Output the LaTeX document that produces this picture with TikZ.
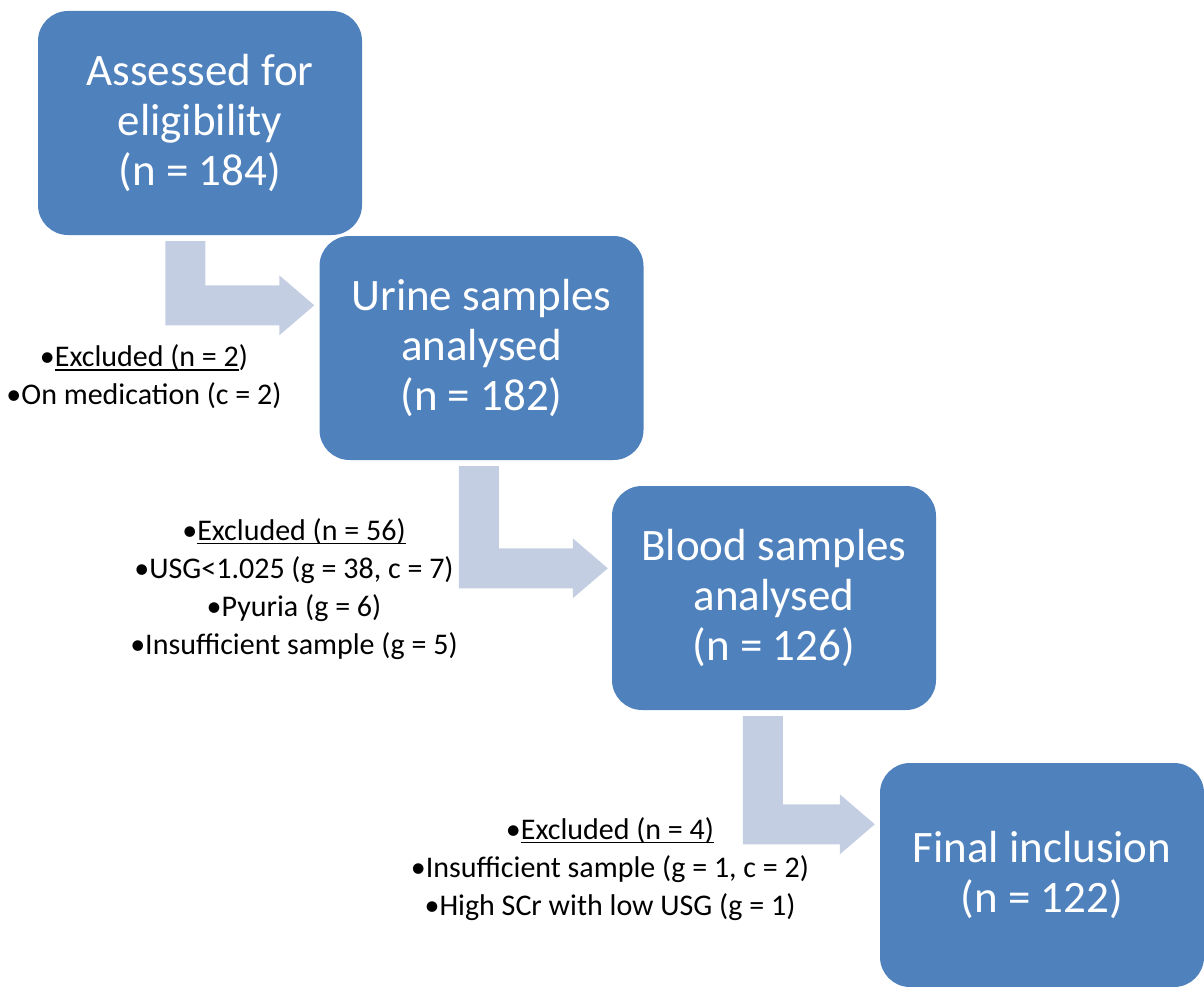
\documentclass[tikz,border=0pt]{standalone}
\usepackage{fontspec}
\setmainfont{Carlito}
\usetikzlibrary{positioning,calc}
\definecolor{boxblue}{RGB}{79,129,189}
\definecolor{arrowgrey}{RGB}{196,206,227}
\tikzset{
    stage/.style={fill=boxblue, rounded corners=30pt, minimum width=324pt, minimum height=224pt,
        text=white, align=center, font=\fontsize{45}{50}\selectfont},
    note/.style={align=center, font=\fontsize{30}{38}\selectfont},
    bent/.style={fill=arrowgrey}
}
\newcommand{\ulx}[1]{\setbox0\hbox{#1}\rlap{\rule[-4pt]{\wd0}{1.6pt}}\box0}
% bent arrow: #1 = top of the bar, #2 = tip
\newcommand{\bentarrow}[2]{%
  \fill[bent] let \p1=(#1), \p2=(#2) in
    (\x1-20pt,\y1) -- (\x1+20pt,\y1) -- (\x1+20pt,\y2+20pt) -- (\x2-35pt,\y2+20pt)
    -- (\x2-35pt,\y2+30pt) -- (\x2,\y2) -- (\x2-35pt,\y2-30pt) -- (\x2-35pt,\y2-20pt)
    -- (\x1-20pt,\y2-20pt) -- cycle;}

\begin{document}
\begin{tikzpicture}[x=1pt, y=-1pt]
\useasboundingbox (0,0) rectangle (1204,987);

\node[stage] (assess) at (200,123) {Assessed for\\eligibility\\(n = 184)};
\node[stage] (urine) at (481.5,348) {Urine samples\\analysed\\(n = 182)};
\node[stage] (blood) at (774,598) {Blood samples\\analysed\\(n = 126)};
\node[stage] (final) at (1042,875) {Final inclusion\\(n = 122)};

% Arrows
\coordinate (a1top) at ($(assess.south west)+(147.5,6)$);
\coordinate (a1tip) at ($(urine.north west)+(-5,69.5)$);
\coordinate (a2top) at ($(urine.south west)+(159.5,6)$);
\coordinate (a2tip) at ($(blood.north west)+(-4,82.5)$);
\coordinate (a3top) at ($(blood.south west)+(151,6)$);
\coordinate (a3tip) at ($(final.north west)+(-5,61.5)$);
\bentarrow{a1top}{a1tip}
\bentarrow{a2top}{a2tip}
\bentarrow{a3top}{a3tip}

% Exclusions
\node[note] (excl1) at (144,377) {•\ulx{Excluded (n = 2})\\•On medication (c = 2)};
\node[note] (excl2) at (294,589) {•\ulx{Excluded (n = 56)}\\•USG<1.025 (g = 38, c = 7)\\•Pyuria (g = 6)\\•Insufficient sample (g = 5)};
\node[note] (excl3) at (610,869) {•\ulx{Excluded (n = 4)}\\•Insufficient sample (g = 1, c = 2)\\•High SCr with low USG (g = 1)};

\end{tikzpicture}
\end{document}
